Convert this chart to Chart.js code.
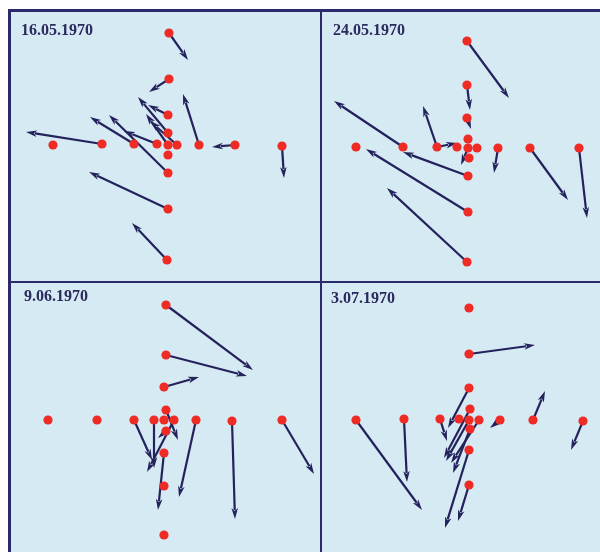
<!DOCTYPE html>
<html>
<head>
<meta charset="utf-8">
<script src="https://cdn.jsdelivr.net/npm/chart.js@4.4.0/dist/chart.umd.min.js"></script>
<style>
  body { margin: 0; width: 600px; height: 552px; overflow: hidden; position: relative; background: #fff; }
  .line { position: absolute; background: #2b2a6b; }
  .panel { position: absolute; background: #d6eaf3; overflow: hidden; }
  .panel canvas { position: absolute; left: 0; top: 0; }
  .label { position: absolute; font: bold 16px "Liberation Serif", "DejaVu Serif", serif; color: #2a2a5e; white-space: nowrap; }
</style>
</head>
<body>

<div class="panel" style="left:11px;top:12px;width:309px;height:269px"><canvas id="c1" width="309" height="269"></canvas><div class="label" style="left:10px;top:9px">16.05.1970</div></div>
<div class="panel" style="left:322px;top:12px;width:278px;height:269px"><canvas id="c2" width="278" height="269"></canvas><div class="label" style="left:11px;top:9px">24.05.1970</div></div>
<div class="panel" style="left:11px;top:283px;width:309px;height:269px"><canvas id="c3" width="309" height="269"></canvas><div class="label" style="left:13px;top:4px">9.06.1970</div></div>
<div class="panel" style="left:322px;top:283px;width:278px;height:269px"><canvas id="c4" width="278" height="269"></canvas><div class="label" style="left:9px;top:6px">3.07.1970</div></div>

<div class="line" style="left:8px;top:9px;width:592px;height:3px"></div>
<div class="line" style="left:8px;top:9px;width:3px;height:543px"></div>
<div class="line" style="left:320px;top:9px;width:2px;height:543px"></div>
<div class="line" style="left:8px;top:281px;width:592px;height:2px"></div>

<script>
// stations (offset from central station, east / north) and drift arrows (start -> end)

// 16.05.1970
const may16X = [1, 1, 0, 0, 0, 0, 0, 0, -1, -115, -66, -34, -11, 9, 31, 67, 114];
const may16Y = [112, 66, 30, 12, 0, -10, -28, -64, -115, 0, 1, 1, 1, 0, 0, 0, -1];
const may16FromX = [1, 1, 0, 0, 0, 0, 0, -1, -66, -34, -11, 9, 31, 67, 114];
const may16FromY = [112, 66, 30, 12, 0, -28, -64, -115, 1, 1, 1, 0, 0, 0, -1];
const may16ToX = [20, -19, -20, -30, -22, -59, -79, -36, -142, -78, -44, -18, 15, 44, 116];
const may16ToY = [85, 53, 40, 48, 31, 30, -27, -78, 13, 28, 14, 24, 51, -2, -33];

// 24.05.1970
const may24X = [-1, -1, -1, 0, 0, 1, 0, 0, -1, -112, -65, -31, -11, 9, 30, 62, 111];
const may24Y = [107, 63, 30, 9, 0, -10, -28, -64, -114, 1, 1, 1, 1, 0, 0, 0, 0];
const may24FromX = [-1, -1, -1, 0, 0, 0, -1, -65, -31, -31, 30, 62, 111];
const may24FromY = [107, 63, 30, 0, -28, -64, -114, 1, 1, 1, 0, 0, 0];
const may24ToX = [41, 2, 3, -7, -65, -102, -81, -134, -45, -11, 26, 100, 119];
const may24ToY = [50, 38, 19, -17, -4, -1, -40, 47, 42, 5, -25, -52, -70];

// 9.06.1970
const jun09X = [2, 2, 0, 2, 0, 2, 0, 0, 0, -116, -67, -30, -10, 10, 32, 68, 118];
const jun09Y = [115, 65, 33, 10, 0, -11, -33, -66, -115, 0, 0, 0, 0, 0, 0, -1, 0];
const jun09FromX = [2, 2, 0, 2, 2, 0, -30, -10, 10, 32, 68, 118];
const jun09FromY = [115, 65, 33, 10, -11, -33, 0, 0, 0, 0, -1, 0];
const jun09ToX = [89, 83, 35, 14, -6, -6, -12, -10, -17, 15, 71, 150];
const jun09ToY = [50, 44, 43, -20, -18, -90, -40, -48, -52, -77, -99, -54];

// 3.07.1970
const jul03X = [0, 0, 0, 1, 0, 1, 0, 0, -113, -65, -29, -10, 10, 31, 64, 114];
const jul03Y = [112, 66, 32, 11, 0, -9, -30, -65, 0, 1, 1, 1, 0, 0, 0, -1];
const jul03FromX = [0, 0, 1, 0, 1, 0, 0, -113, -65, -29, 10, 31, 64, 114];
const jul03FromY = [66, 32, 11, 0, -9, -30, -65, 0, 1, 1, 0, 0, 0, -1];
const jul03ToX = [66, -21, -25, -23, -16, -24, -11, -47, -62, -22, -18, 21, 76, 102];
const jul03ToY = [75, -8, -38, -41, -53, -108, -101, -90, -62, -21, -43, -8, 29, -30];

function drawArrow(ctx, x0, y0, x1, y1) {
    const a = Math.atan2(y1 - y0, x1 - x0);
    const len = 11, half = 3.3;
    const bx = x1 - len * Math.cos(a);
    const by = y1 - len * Math.sin(a);
    ctx.beginPath();
    ctx.moveTo(x0, y0);
    ctx.lineTo(bx + 2 * Math.cos(a), by + 2 * Math.sin(a));
    ctx.stroke();
    ctx.beginPath();
    ctx.moveTo(x1, y1);
    ctx.lineTo(bx + half * Math.sin(a), by - half * Math.cos(a));
    ctx.lineTo(bx + 3 * Math.cos(a), by + 3 * Math.sin(a));
    ctx.lineTo(bx - half * Math.sin(a), by + half * Math.cos(a));
    ctx.closePath();
    ctx.fill();
}

function arrowPlugin(fx, fy, tx, ty) {
    return {
        id: 'arrows',
        beforeDatasetsDraw(chart) {
            const { ctx, scales: { x, y } } = chart;
            ctx.save();
            ctx.strokeStyle = '#23225c';
            ctx.fillStyle = '#23225c';
            ctx.lineWidth = 2.2;
            fx.forEach((v, i) => {
                drawArrow(ctx,
                    x.getPixelForValue(v), y.getPixelForValue(fy[i]),
                    x.getPixelForValue(tx[i]), y.getPixelForValue(ty[i]));
            });
            ctx.restore();
        }
    };
}

function makePanel(id, xs, ys, fx, fy, tx, ty, xr, yr) {
    new Chart(document.getElementById(id), {
        type: 'scatter',
        data: {
            datasets: [{
                data: xs.map((v, i) => ({ x: v, y: ys[i] })),
                backgroundColor: '#ee2b24',
                borderWidth: 0,
                pointRadius: 4.6,
                clip: false
            }]
        },
        options: {
            responsive: false,
            animation: false,
            layout: { padding: 0, autoPadding: false },
            plugins: { legend: { display: false }, tooltip: { enabled: false } },
            scales: {
                x: { display: false, min: xr[0], max: xr[1] },
                y: { display: false, min: yr[0], max: yr[1] }
            }
        },
        plugins: [arrowPlugin(fx, fy, tx, ty)]
    });
}

makePanel('c1', may16X, may16Y, may16FromX, may16FromY, may16ToX, may16ToY, [-157, 152], [-136, 133]);
makePanel('c2', may24X, may24Y, may24FromX, may24FromY, may24ToX, may24ToY, [-146, 132], [-133, 136]);
makePanel('c3', jun09X, jun09Y, jun09FromX, jun09FromY, jun09ToX, jun09ToY, [-153, 156], [-132, 137]);
makePanel('c4', jul03X, jul03Y, jul03FromX, jul03FromY, jul03ToX, jul03ToY, [-147, 131], [-132, 137]);
</script>
</body>
</html>
